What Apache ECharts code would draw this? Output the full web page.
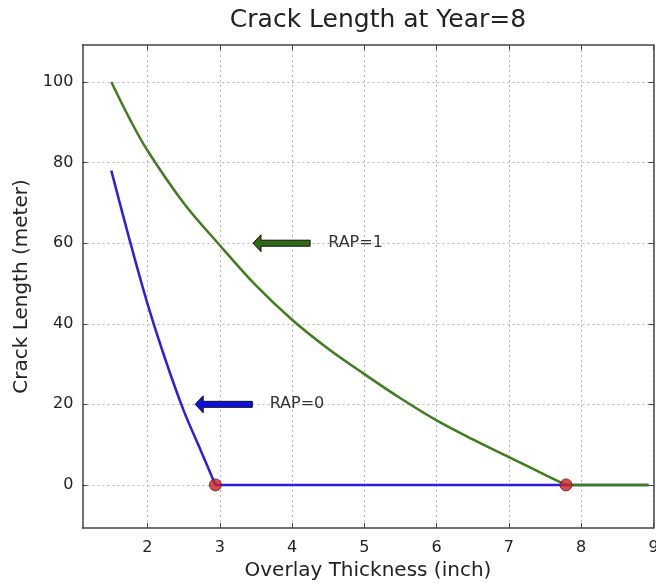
<!DOCTYPE html>
<html>
<head>
<meta charset="utf-8">
<script src="https://cdn.jsdelivr.net/npm/echarts@6/dist/echarts.min.js"></script>
<style>html,body{margin:0;padding:0;background:#fff;}#c{width:656px;height:583px;}</style>
</head>
<body>
<div id="c"></div>
<script>
// ---- data ----
const xTicks = [2, 3, 4, 5, 6, 7, 8, 9];
const yTicks = [0, 20, 40, 60, 80, 100];
const rap1 = [[1.5,100],[1.75,91],[2,83],[2.5,70],[3,59.5],[3.5,49.5],[4,41],[4.5,33.8],[5,27.5],[5.5,21.5],[6,16],[6.5,11.3],[7,6.9],[7.5,2.5],[7.79,0],[8.93,0]];
const rap0 = [[1.5,78],[1.75,61],[2,45],[2.25,31],[2.5,18.5],[2.75,8],[2.94,0],[8.93,0]];
const zeroPoints = [[2.94,0],[7.79,0]];
// arrows: [tipX, tailX, y]
const arrows1 = [[3.46, 4.25, 60]];
const arrows0 = [[2.66, 3.45, 20]];
const notes = [[4.5, 60, 'RAP=1'], [3.69, 20, 'RAP=0']];

const FONT = 'DejaVu Sans';
const frame = '#444';
const gridStyle = {show: true, lineStyle: {color: '#b4b4b4', type: [2, 3], width: 1}};
const BLUE = '#2a1fe0', GREEN = '#3f7d1f';

function arrowRender(fill) {
  return function (params, api) {
    const tip = api.coord([api.value(0), api.value(2)]);
    const tail = api.coord([api.value(1), api.value(2)]);
    const y = tip[1], x0 = tip[0], x1 = tail[0];
    const st = 3, hh = 8.5, hl = 8;
    return {
      type: 'polygon',
      shape: {points: [[x0, y], [x0 + hl, y - hh], [x0 + hl, y - st], [x1, y - st], [x1, y + st], [x0 + hl, y + st], [x0 + hl, y + hh]]},
      style: {fill: fill, stroke: '#111', lineWidth: 1}
    };
  };
}

function lineParts(data, color, z) {
  return [{
    type: 'line', data: data.slice(0, -1), showSymbol: false, smooth: 0.35,
    lineStyle: {color: color, width: 2.5}, z: z
  }, {
    type: 'line', data: data.slice(-2), showSymbol: false,
    lineStyle: {color: color, width: 2.5}, z: z
  }];
}

const chart = echarts.init(document.getElementById('c'));
chart.setOption({
  animation: false,
  backgroundColor: '#fff',
  title: {
    text: 'Crack Length at Year=8',
    left: 373, textAlign: 'center', top: 3,
    textStyle: {fontFamily: FONT, fontSize: 25, fontWeight: 'normal', color: '#222'}
  },
  grid: {left: 82.4, right: 2.5, top: 45, bottom: 55, outerBoundsMode: 'none', containLabel: false},
  xAxis: [{
    type: 'value', min: 1.1, max: 9, position: 'bottom',
    name: 'Overlay Thickness (inch)', nameLocation: 'middle', nameGap: 32,
    nameTextStyle: {fontFamily: FONT, fontSize: 20, color: '#222'},
    axisLine: {show: true, onZero: false, lineStyle: {color: frame, width: 1.5}},
    axisTick: {show: true, inside: true, length: 5, customValues: xTicks, lineStyle: {color: frame}},
    axisLabel: {customValues: xTicks, fontFamily: FONT, fontSize: 16, color: '#222', margin: 12, hideOverlap: false},
    splitLine: gridStyle
  }, {
    type: 'value', min: 1.1, max: 9, position: 'top',
    axisLine: {show: true, onZero: false, lineStyle: {color: frame, width: 1.5}},
    axisTick: {show: true, inside: true, length: 5, customValues: xTicks, lineStyle: {color: frame}},
    axisLabel: {show: false},
    splitLine: {show: false}
  }],
  yAxis: [{
    type: 'value', min: -10.7, max: 109.2, position: 'left',
    name: 'Crack Length (meter)', nameLocation: 'middle', nameGap: 48,
    nameTextStyle: {fontFamily: FONT, fontSize: 20, color: '#222'},
    axisLine: {show: true, onZero: false, lineStyle: {color: frame, width: 1.5}},
    axisTick: {show: true, inside: true, length: 5, customValues: yTicks, lineStyle: {color: frame}},
    axisLabel: {customValues: yTicks, fontFamily: FONT, fontSize: 16, color: '#222', margin: 9},
    splitLine: gridStyle
  }, {
    type: 'value', min: -10.7, max: 109.2, position: 'right',
    axisLine: {show: true, onZero: false, lineStyle: {color: frame, width: 1.5}},
    axisTick: {show: true, inside: true, length: 5, customValues: yTicks, lineStyle: {color: frame}},
    axisLabel: {show: false},
    splitLine: {show: false}
  }],
  series: [
    ...lineParts(rap0, BLUE, 2),
    ...lineParts(rap1, GREEN, 3),
  {
    type: 'scatter', data: zeroPoints, symbol: 'circle', symbolSize: 12,
    itemStyle: {color: '#c8202a', borderColor: '#7a1015', borderWidth: 1}, z: 5
  }, {
    type: 'custom', data: arrows1, renderItem: arrowRender('#2f6a12'), z: 4
  }, {
    type: 'custom', data: arrows0, renderItem: arrowRender('#1010dd'), z: 4
  }, {
    type: 'custom', data: notes,
    renderItem: function (params, api) {
      const p = api.coord([api.value(0), api.value(1)]);
      return {
        type: 'text',
        style: {x: p[0], y: p[1], text: notes[params.dataIndex][2], fill: '#333',
          font: '16px "DejaVu Sans"', textAlign: 'left', textVerticalAlign: 'middle'}
      };
    }, z: 4
  }]
});
</script>
</body>
</html>
